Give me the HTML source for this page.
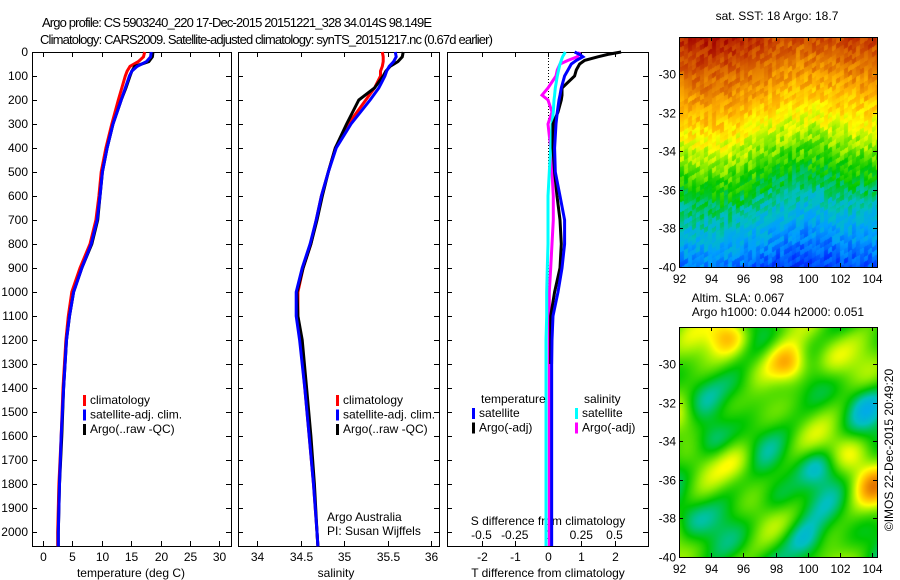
<!DOCTYPE html>
<html><head><meta charset="utf-8"><style>
html,body{margin:0;padding:0;background:#fff;}
svg{display:block;font-family:"Liberation Sans",sans-serif;font-size:12px;}
canvas{position:absolute;}
</style></head><body>
<div style="position:relative;width:900px;height:580px;overflow:hidden">
<canvas id="sst" width="198" height="230" style="left:680px;top:37px"></canvas>
<canvas id="sla" width="198" height="230" style="left:680px;top:327px"></canvas>
<svg id="s" width="900" height="580" style="position:absolute;left:0;top:0"></svg>
</div>
<script>
// ---- data ----
const depthT = [0,20,40,60,80,100,150,200,300,400,500,600,700,800,900,1000,1100,1200,1400,1600,1800,2000,2060];
const tempClim = [17.3,17.1,16.2,14.8,14.3,14.0,13.4,12.8,11.7,10.7,9.9,9.5,9.0,8.0,6.3,4.9,4.3,3.9,3.4,3.1,2.7,2.5,2.5];
const tempSat  = [18.4,18.3,17.6,16.0,15.1,14.7,14.0,13.3,11.9,10.9,10.1,9.7,9.2,8.2,6.6,5.2,4.5,4.0,3.5,3.1,2.8,2.6,2.6];
const tempArgo = [18.7,18.6,18.0,15.6,15.1,14.8,14.1,13.3,11.9,10.9,10.1,9.7,9.3,8.3,6.6,5.2,4.5,4.0,3.5,3.2,2.8,2.6,2.6];
const salClim = [35.44,35.45,35.45,35.44,35.42,35.42,35.35,35.25,35.05,34.9,34.82,34.74,34.68,34.62,34.53,34.47,34.47,34.5,34.55,34.6,34.65,34.69,34.7];
const salSat  = [35.59,35.60,35.57,35.52,35.49,35.47,35.4,35.3,35.08,34.91,34.82,34.74,34.68,34.61,34.52,34.45,34.45,34.49,34.55,34.6,34.65,34.69,34.7];
const salArgo = [35.68,35.67,35.62,35.53,35.48,35.45,35.35,35.17,35.03,34.9,34.82,34.75,34.69,34.62,34.53,34.46,34.47,34.52,34.57,34.62,34.66,34.69,34.7];
const depthD = [0,10,20,35,50,75,100,150,180,200,250,300,400,500,600,700,800,900,1000,1100,1200,1300];
const dTsat  = [0.8,0.95,1.05,0.85,0.7,0.6,0.5,0.4,0.36,0.33,0.28,0.24,0.2,0.22,0.36,0.5,0.5,0.42,0.3,0.15,0.12,0.11];
const dTargo = [2.2,1.8,1.5,1.1,0.95,0.85,0.8,0.42,0.42,0.4,0.3,0.15,0.15,0.2,0.27,0.36,0.4,0.36,0.2,0.08,0.08,0.08];
const dSsat  = [0.13,0.12,0.11,0.1,0.09,0.08,0.07,0.055,0.05,0.045,0.04,0.03,0.02,0.01,0.0,0.0,0.0,-0.005,-0.01,-0.01,-0.015,-0.015];
const dSargo = [0.24,0.23,0.22,0.15,0.09,0.07,0.06,0.0,-0.045,0.0,0.03,0.0,0.02,0.03,0.04,0.04,0.03,0.02,0.01,0.01,0.01,0.01];
const depthTicks = [0,100,200,300,400,500,600,700,800,900,1000,1100,1200,1300,1400,1500,1600,1700,1800,1900,2000];
const tempTicks = [0,5,10,15,20,25,30];
const salTicks = [34,34.5,35,35.5,36];
const dTTicks = [-2,-1,0,1,2];
const dSTicks = [-0.5,-0.25,0,0.25,0.5];
const mapLonTicks = [92,94,96,98,100,102,104];
const mapLatTicks = [-30,-32,-34,-36,-38,-40];

// ---- scales ----
const yD = d => 52 + d*0.24;
const xT = t => 43 + t*5.88;
const xS = s => 257 + (s-34)*87;
const xDT = t => 548 + t*33.25;
const xDS = s => 548 + s*133;
const mapX = lon => 679 + (lon-92)*16.1;
const latY = (lat,off) => off + 74 + (-30-lat)*19.3;

const S = document.getElementById('s');
const NS = 'http://www.w3.org/2000/svg';
function el(tag, attrs, parent){const e=document.createElementNS(NS,tag);for(const k in attrs)e.setAttribute(k,attrs[k]);(parent||S).appendChild(e);return e;}
function txt(x,y,s,anchor,name){const t=el('text',{x:x,y:y,'text-anchor':anchor||'start'});t.textContent=s;


return t;}

let t1=txt(42,27,'Argo profile: CS 5903240_220 17-Dec-2015 20151221_328 34.014S 98.149E','start','title-line-1');t1.setAttribute('font-size','13');t1.setAttribute('textLength','390');
let t2=txt(40,44,'Climatology: CARS2009. Satellite-adjusted climatology: synTS_20151217.nc (0.67d earlier)','start','title-line-2');t2.setAttribute('font-size','13');t2.setAttribute('textLength','453');

function panel(x0,x1,name){
  const r=el('rect',{x:x0+0.5,y:52.5,width:x1-x0,height:494,fill:'none',stroke:'#000'});
  
  
  depthTicks.forEach(d=>{const y=yD(d)+0.5;el('line',{x1:x0,x2:x0+5,y1:y,y2:y,stroke:'#000'});el('line',{x1:x1-5,x2:x1,y1:y,y2:y,stroke:'#000'});});
}
panel(32,231,'temperature-panel');panel(238,439,'salinity-panel');panel(447,648,'difference-panel');
depthTicks.forEach(d=>{txt(28,yD(d)+4,String(d),'end','y-tick-label');});

function xticks(vals,fx,yl,name){vals.forEach(v=>{const x=Math.round(fx(v))+0.5;el('line',{x1:x,x2:x,y1:52,y2:57,stroke:'#000'});el('line',{x1:x,x2:x,y1:541,y2:547,stroke:'#000'});if(yl)txt(x,yl,String(v),'middle',name);});}
xticks(tempTicks,xT,561,'temp-tick-label');
xticks(salTicks,xS,561,'sal-tick-label');
xticks(dTTicks,xDT,561,'dt-tick-label');
dSTicks.forEach(v=>txt(xDS(v),539,String(v),'middle','ds-tick-label'));
txt(131,577,'temperature (deg C)','middle','x-axis-title-temperature');
txt(336,577,'salinity','middle','x-axis-title-salinity');
txt(548,577,'T difference from climatology','middle','x-axis-title-t-diff');
txt(548,525,'S difference from climatology','middle','x-axis-title-s-diff');
txt(327,521,'Argo Australia','start','credit-line-1');
txt(327,535,'PI: Susan Wijffels','start','credit-line-2');
el('line',{x1:548.5,x2:548.5,y1:52,y2:546,stroke:'#000','stroke-dasharray':'1,2'});

function prof(xs,ds,fx,col,name,w){
  let pts='';
  for(let i=0;i<xs.length;i++){const x=fx(xs[i]).toFixed(1),y=yD(ds[i]).toFixed(1);pts+=x+','+y+' ';}
  const p=el('polyline',{points:pts,fill:'none',stroke:col,'stroke-width':w||3});
  
  
}
prof(tempClim,depthT,xT,'#f00','temp-climatology-line');
prof(tempArgo,depthT,xT,'#000','temp-argo-line');
prof(tempSat,depthT,xT,'#00f','temp-satellite-line');
prof(salClim,depthT,xS,'#f00','sal-climatology-line');
prof(salArgo,depthT,xS,'#000','sal-argo-line');
prof(salSat,depthT,xS,'#00f','sal-satellite-line');
prof(dSargo,depthD,xDS,'#f0f','ds-argo-line');
prof(dSsat,depthD,xDS,'#0ff','ds-satellite-line');
prof(dTargo,depthD,xDT,'#000','dt-argo-line');
prof(dTsat,depthD,xDT,'#00f','dt-satellite-line');
[[dSsat,'#0ff',xDS],[dSargo,'#f0f',xDS],[dTsat,'#00f',xDT]].forEach(a=>{
  const v=a[0][a[0].length-1];const l=el('line',{x1:a[2](v),x2:a[2](v),y1:yD(1300),y2:546,stroke:a[1],'stroke-width':3});
  
  
});

function legend(x,y,items){items.forEach((it,i)=>{const r=el('rect',{x:x,y:y+i*14.5-9,width:3,height:11,fill:it[0]});


txt(x+7,y+i*14.5,it[1],'start','legend-entry');});}
legend(83,404,[['#f00','climatology'],['#00f','satellite-adj. clim.'],['#000','Argo(..raw -QC)']]);
legend(336,404,[['#f00','climatology'],['#00f','satellite-adj. clim.'],['#000','Argo(..raw -QC)']]);
txt(481,403,'temperature','start','legend-title-temperature');
txt(584,403,'salinity','start','legend-title-salinity');
legend(472,417,[['#00f','satellite'],['#000','Argo(-adj)']]);
legend(575,417,[['#0ff','satellite'],['#f0f','Argo(-adj)']]);

function mapAxes(off,name){
  const r=el('rect',{x:679.5,y:off+37.5,width:198,height:230,fill:'none',stroke:'#000'});
  
  
  mapLonTicks.forEach(l=>{const x=Math.round(mapX(l))+0.5;el('line',{x1:x,x2:x,y1:off+37,y2:off+41,stroke:'#000'});el('line',{x1:x,x2:x,y1:off+263,y2:off+268,stroke:'#000'});txt(x,off+283,String(l),'middle','map-lon-label');});
  mapLatTicks.forEach(l=>{const y=Math.round(latY(l,off))+0.5;el('line',{x1:679,x2:683,y1:y,y2:y,stroke:'#000'});el('line',{x1:873,x2:878,y1:y,y2:y,stroke:'#000'});txt(676,y+4,String(l),'end','map-lat-label');});
}
mapAxes(0,'sst-map-frame');mapAxes(290,'sla-map-frame');
txt(777,20,'sat. SST: 18 Argo: 18.7','middle','sst-map-title');
txt(738,302,'Altim. SLA: 0.067','middle','sla-map-title-1');
txt(778,316,'Argo h1000: 0.044 h2000: 0.051','middle','sla-map-title-2');
const rt=txt(0,0,'©IMOS 22-Dec-2015 20:49:20','middle','timestamp');rt.setAttribute('transform','translate(893,450) rotate(-90)');

// map textures
const stops=[[0,[0,0,128]],[0.12,[0,48,255]],[0.25,[0,160,255]],[0.35,[0,192,192]],[0.45,[0,200,0]],[0.55,[150,240,0]],[0.62,[255,255,0]],[0.72,[255,176,0]],[0.82,[224,112,0]],[0.92,[192,48,0]],[1,[160,0,0]]];
function cmap(v){v=Math.max(0,Math.min(1,v));for(let i=1;i<stops.length;i++){if(v<=stops[i][0]){const a=stops[i-1],b=stops[i],f=(v-a[0])/(b[0]-a[0]);return [0,1,2].map(k=>a[1][k]+(b[1][k]-a[1][k])*f|0);}}return stops[stops.length-1][1];}
function h(i,j){let n=Math.sin(i*127.1+j*311.7)*43758.5453;return n-Math.floor(n);}
function draw(id,f){const c=document.getElementById(id).getContext('2d');const im=c.createImageData(198,230);
for(let y=0;y<230;y++)for(let x=0;x<198;x++){const col=cmap(f(x,y));const k=(y*198+x)*4;im.data[k]=col[0];im.data[k+1]=col[1];im.data[k+2]=col[2];im.data[k+3]=255;}c.putImageData(im,0,0);}
draw('sst',(x,y)=>{const bx=Math.floor(x/4),by=Math.floor((y+x*0.6)/5);return 0.95-(y+x*0.12)/245*0.8+0.03*Math.sin(x/25)+(h(bx,by)-0.5)*0.1;});
draw('sla',(x,y)=>{let v=0.48+0.05*Math.sin(x/14+y/25)+0.05*Math.cos(y/18-x/22)+0.03*Math.sin((x+y)/9);
const bumps=[[48,8,0.25],[109,37,0.28],[193,158,0.2],[169,124,0.12],[64,60,-0.1],[32,114,-0.1],[137,139,-0.14],[126,214,-0.14],[185,76,-0.1],[8,190,-0.08],[97,172,-0.08],[60,135,0.1],[150,30,0.08],[2,90,0.12]];
bumps.forEach(b=>{v+=b[2]*Math.exp(-((x-b[0])**2+(y-b[1])**2)/400);});return v;});
</script>
</body></html>
